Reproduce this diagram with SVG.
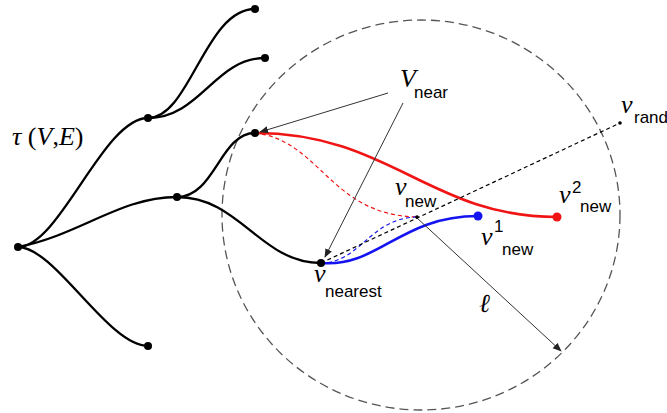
<svg xmlns="http://www.w3.org/2000/svg" width="667" height="413" viewBox="0 0 667 413">
<style>
.tree{fill:none;stroke:#000;stroke-width:2.3}
.node{fill:#000}
.it{font-family:"Liberation Serif",serif;font-style:italic;font-size:26px;fill:#000}
.up{font-family:"Liberation Serif",serif;font-style:normal}
.sub{font-family:"Liberation Sans",Arial,sans-serif;font-size:17px;fill:#000}
.ptr{fill:none;stroke:#333;stroke-width:1}
</style>
<defs>
<marker id="ah" viewBox="0 0 10 10" refX="9" refY="5" markerWidth="9" markerHeight="9" markerUnits="userSpaceOnUse" orient="auto">
<path d="M0,1 L10,5 L0,9 Z" fill="#222"/>
</marker>
</defs>
<g id="circle">
<ellipse cx="421" cy="215" rx="199" ry="195" fill="none" stroke="#555" stroke-width="1.3" stroke-dasharray="9,5"/>
</g>
<g id="connectors">
<path class="tree" d="M18,247 C60,247 103,118 148,118"/>
<path class="tree" d="M18,247 C80,235 120,197 177,197"/>
<path class="tree" d="M18,247 C55,247 108,346 148,346"/>
<path class="tree" d="M148,118 C190,118 205,9 255,9"/>
<path class="tree" d="M148,118 C200,118 215,58 265,58"/>
<path class="tree" d="M177,197 C215,197 220,133 255,133"/>
<path class="tree" d="M177,197 C240,197 260,263 321,263"/>
<path d="M255,133 C390,133 430,217 557,217" fill="none" stroke="#f01414" stroke-width="2.6"/>
<path d="M255,133 C320,140 330,215 417,217" fill="none" stroke="#f01414" stroke-width="1.2" stroke-dasharray="4,3"/>
<path d="M321,263 C378,268 400,216 478,216" fill="none" stroke="#1414f0" stroke-width="2.6"/>
<path d="M321,263 C360,263 370,218 417,217" fill="none" stroke="#1414f0" stroke-width="1.2" stroke-dasharray="4,3"/>
<line x1="321" y1="263" x2="620" y2="123" stroke="#000" stroke-width="1.2" stroke-dasharray="4,3"/>
<line class="ptr" x1="388" y1="93" x2="260" y2="132" marker-end="url(#ah)"/>
<line class="ptr" x1="403" y1="103" x2="325" y2="257" marker-end="url(#ah)"/>
<line class="ptr" x1="417" y1="218" x2="561" y2="351" marker-end="url(#ah)"/>
</g>
<g id="n-root"><circle class="node" cx="18" cy="247" r="4"/></g>
<g id="n-a"><circle class="node" cx="148" cy="118" r="4"/></g>
<g id="n-leaf1"><circle class="node" cx="255" cy="9" r="4"/></g>
<g id="n-leaf2"><circle class="node" cx="265" cy="58" r="4"/></g>
<g id="n-leaf3"><circle class="node" cx="148" cy="346" r="4"/></g>
<g id="n-b"><circle class="node" cx="177" cy="197" r="4"/></g>
<g id="n-near"><circle class="node" cx="255" cy="133" r="4"/></g>
<g id="n-nearest"><circle class="node" cx="321" cy="263" r="4"/>
<text class="it" x="314" y="282">v</text><text class="sub" x="325" y="297">nearest</text></g>
<g id="n-new"><circle class="node" cx="417" cy="217" r="1.8"/>
<text class="it" x="395" y="195">v</text><text class="sub" x="405" y="207">new</text></g>
<g id="n-rand"><circle class="node" cx="620" cy="123" r="1.8"/>
<text class="it" x="621" y="113">v</text><text class="sub" x="634" y="123">rand</text></g>
<g id="n-new1"><circle cx="478" cy="216" r="4.5" fill="#1414f0"/>
<text class="it" x="481" y="245">v</text><text class="sub" x="494" y="232">1</text><text class="sub" x="502" y="255">new</text></g>
<g id="n-new2"><circle cx="557" cy="217" r="4.5" fill="#f01414"/>
<text class="it" x="559" y="203">v</text><text class="sub" x="572" y="193">2</text><text class="sub" x="580" y="212">new</text></g>
<g id="labels">
<text class="it" x="12" y="145" font-size="27">τ<tspan class="up"> (</tspan>V<tspan class="up">,</tspan>E<tspan class="up">)</tspan></text>
<text class="it" x="400" y="87">V</text><text class="sub" x="414" y="98">near</text>
<text class="it" x="479" y="312" font-size="24">ℓ</text>
</g>
</svg>
